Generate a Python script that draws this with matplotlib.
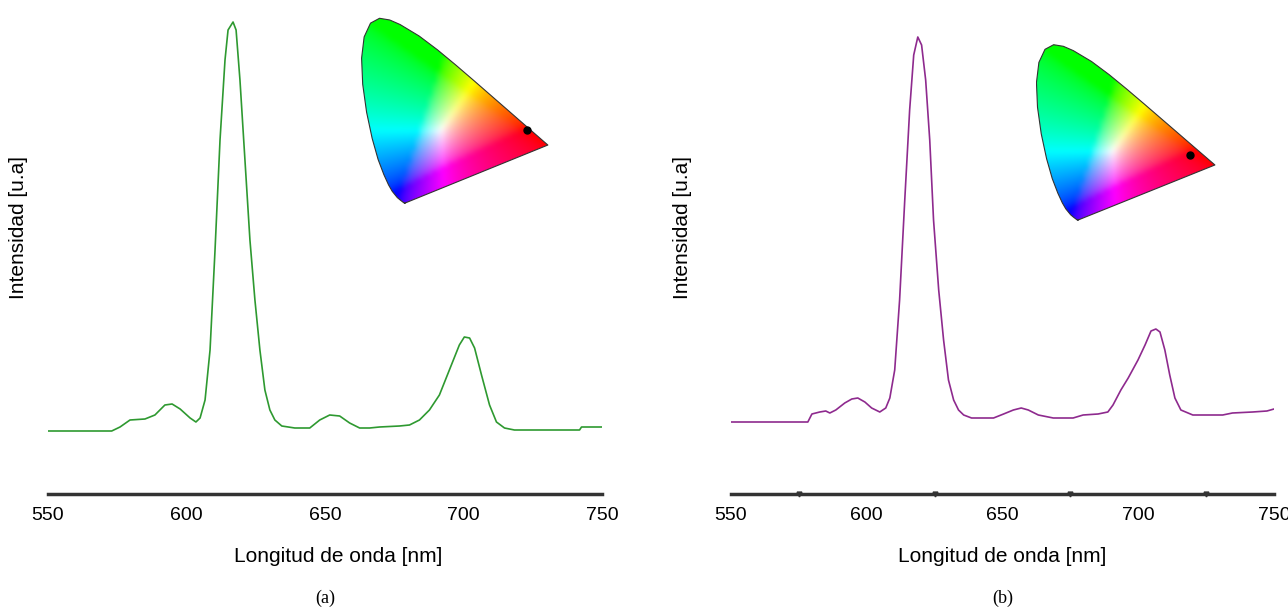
import numpy as np
import matplotlib
matplotlib.use('Agg')
import matplotlib.pyplot as plt
from matplotlib.patches import Polygon

plt.rcParams['font.family'] = ['Liberation Sans', 'DejaVu Sans']

# spectrum (a): wavelength [nm], intensity [a.u.]
wl_a = [550, 573, 576, 579.6, 585, 588.6, 592.2, 594.8, 597.7, 601.3, 603.4, 604.9, 606.7,
        608.5, 610.3, 612.1, 613.9, 615.0, 616.8, 617.9, 619.3, 621.1, 622.9, 624.7,
        626.5, 628.3, 630.1, 631.9, 634.4, 639.1, 644.5, 648.1, 651.7, 655.3, 658.9,
        662.5, 666.1, 669.7, 676.9, 680.5, 684.1, 687.7, 691.3, 694.9, 698.5, 700.3,
        702.2, 704.0, 706.5, 709.4, 711.9, 714.8, 718.4, 741.9, 742.6, 750]
int_a = [63, 63, 67, 74, 75, 79, 89, 90, 85, 76, 72, 76, 94,
         144, 244, 354, 434, 464, 472, 464, 414, 334, 254, 194,
         144, 104, 84, 74, 68, 66, 66, 74, 79, 78, 71, 66, 66, 67, 68, 69,
         74, 84, 99, 124, 149, 157, 156, 146, 119, 89, 72, 66, 64, 64, 67, 67]

# spectrum (b)
wl_b = [550, 578.3, 579.8, 582.7, 584.9, 586.4, 588.6, 591.9, 594.5, 596.7, 599.3, 601.8,
        604.8, 607.0, 608.5, 610.3, 612.1, 614.0, 615.8, 617.3, 618.8, 620.2, 621.7,
        623.2, 624.6, 626.5, 628.3, 630.1, 632.0, 633.8, 635.7, 638.6, 641.2, 646.7,
        650.4, 654.0, 656.9, 659.5, 663.2, 668.7, 676.0, 679.7, 685.2, 688.8, 690.7,
        693.6, 696.3, 699.9, 702.5, 704.7, 706.5, 708.0, 709.8, 711.6, 713.5, 715.7,
        720.1, 731.1, 734.7, 742.1, 747.4, 750]
int_b = [72, 72, 80, 82, 83, 81, 84, 91, 95, 96, 92, 86,
         82, 86, 96, 124, 194, 294, 384, 439, 457, 449, 414,
         354, 274, 204, 154, 114, 94, 84, 79, 76, 76, 76, 80, 84, 86, 84, 79, 76,
         76, 79, 80, 82, 89, 104, 116, 134, 149, 163, 165, 162, 144, 119, 96, 84,
         79, 79, 81, 82, 83, 85]

tick_b = [575, 625, 675, 725]

# CIE 1931 spectral locus (x, y)
locus_x = [0.1741, 0.1733, 0.1714, 0.1689, 0.1644, 0.1566, 0.1440, 0.1241, 0.1096, 0.0913,
           0.0687, 0.0454, 0.0235, 0.0082, 0.0039, 0.0139, 0.0389, 0.0743, 0.1142, 0.1547,
           0.2296, 0.3016, 0.3731, 0.4441, 0.5125, 0.5752, 0.6270, 0.6915, 0.7190, 0.7347]
locus_y = [0.0050, 0.0048, 0.0051, 0.0069, 0.0109, 0.0177, 0.0297, 0.0578, 0.0868, 0.1327,
           0.2007, 0.2950, 0.4127, 0.5384, 0.6548, 0.7502, 0.8120, 0.8338, 0.8262, 0.8059,
           0.7543, 0.6923, 0.6245, 0.5547, 0.4866, 0.4242, 0.3725, 0.3083, 0.2809, 0.2653]

point_a = (0.653, 0.333)
point_b = (0.633, 0.313)


def chroma_image(n=45):
    xs = np.linspace(0, 0.74, n)
    ys = np.linspace(0, 0.84, n)
    X, Y = np.meshgrid(xs, ys)
    yy = np.maximum(Y, 0.01)
    XYZ = np.stack([X / yy, np.ones_like(X), np.clip(1 - X - Y, 0, None) / yy], axis=-1)
    M = np.array([[3.2406, -1.5372, -0.4986],
                  [-0.9689, 1.8758, 0.0415],
                  [0.0557, -0.2040, 1.0570]])
    rgb = XYZ @ M.T
    rgb = np.clip(rgb, 0, None)
    rgb = rgb / np.maximum(rgb.max(axis=-1, keepdims=True), 1e-9)
    return rgb ** (1 / 1.8)


def cie_inset(fig, rect, pt):
    ax = fig.add_axes(rect)
    im = ax.imshow(chroma_image(), origin='lower', extent=(0, 0.74, 0, 0.84),
                   aspect='auto', interpolation='bicubic')
    clip = Polygon(np.column_stack([locus_x, locus_y]), closed=True,
                   transform=ax.transData, facecolor='none')
    im.set_clip_path(clip)
    ax.plot(locus_x + [locus_x[0]], locus_y + [locus_y[0]], color='#333333', lw=0.8)
    ax.plot(pt[0], pt[1], 'o', color='black', ms=5)
    ax.set_xlim(0, 0.74)
    ax.set_ylim(0, 0.84)
    ax.axis('off')


def spectrum_axes(fig, rect, wl, inten, color, sub, ylab_x, xlab_x, ticks=None):
    ax = fig.add_axes(rect)
    ax.plot(wl, inten, color=color, lw=1.2)
    ax.set_xlim(550, 750)
    ax.set_ylim(0, 484)
    for s in ['top', 'right', 'left']:
        ax.spines[s].set_visible(False)
    ax.spines['bottom'].set_linewidth(2.5)
    ax.spines['bottom'].set_color('#333333')
    ax.set_yticks([])
    ax.set_xticks([550, 600, 650, 700, 750])
    ax.tick_params(axis='x', length=0, pad=9, labelsize=14)
    if ticks:
        ax.plot(ticks, [0] * len(ticks), 'v', color='#333333', ms=3.5, clip_on=False)
    ax.set_xlabel('Longitud de onda [nm]', fontsize=15)
    ax.xaxis.set_label_coords(xlab_x, -0.11)
    ax.set_ylabel('Intensidad [u.a]', fontsize=15)
    ax.yaxis.set_label_coords(ylab_x, 0.55)
    ax.text(0.5, -0.215, sub, transform=ax.transAxes, ha='center', va='center',
            fontsize=13, family=['Liberation Serif', 'DejaVu Serif'])
    return ax


fig = plt.figure(figsize=(12.88, 6.11), dpi=100)

spectrum_axes(fig, [48 / 1288, 1 - 494 / 611, 554 / 1288, 484 / 611],
              wl_a, int_a, '#2e9930', '(a)', -0.036, 0.523)
spectrum_axes(fig, [731 / 1288, 1 - 494 / 611, 543 / 1288, 484 / 611],
              wl_b, int_b, '#8e2a8e', '(b)', -0.072, 0.5, ticks=tick_b)

cie_inset(fig, [360.6 / 1288, 1 - 204.2 / 611, 188.6 / 1288, 187.3 / 611], point_a)
cie_inset(fig, [1035.5 / 1288, 1 - 221.1 / 611, 180.7 / 1288, 177.7 / 611], point_b)

fig.savefig('out.png', dpi=100)
